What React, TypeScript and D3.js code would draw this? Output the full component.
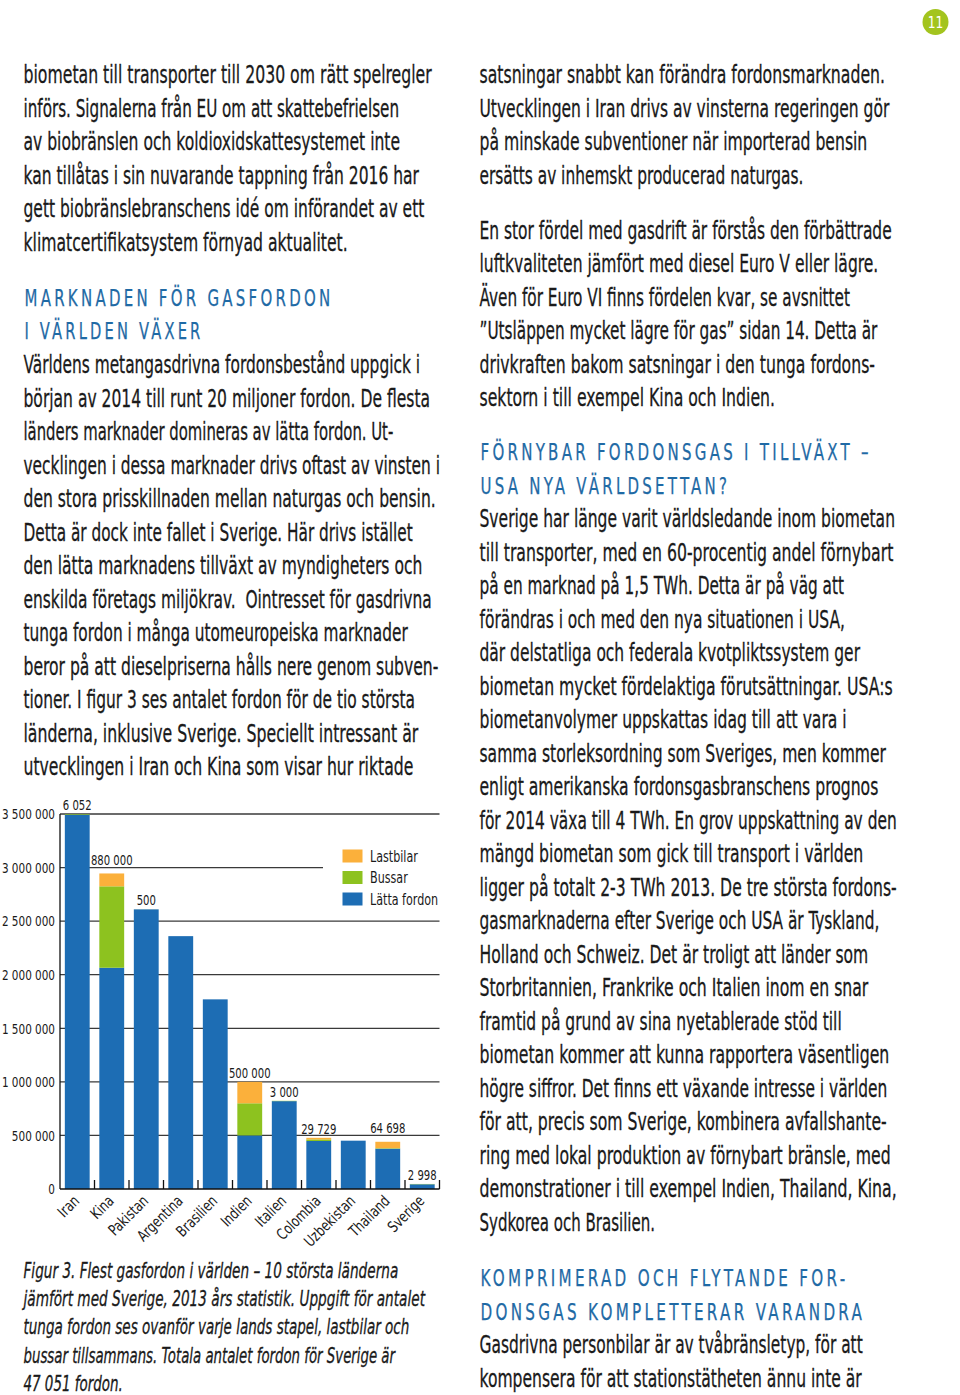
import React from "react";
import * as d3 from "d3";

// ---------- chart data ----------
const countries = ["Iran", "Kina", "Pakistan", "Argentina", "Brasilien", "Indien", "Italien", "Colombia", "Uzbekistan", "Thailand", "Sverige"];
const lattaFordon = [3494000, 2065000, 2610000, 2360000, 1770000, 500000, 820000, 448000, 451000, 376000, 44053];
const bussar = [6052, 760000, 500, 0, 0, 300000, 3000, 15000, 0, 4698, 2998];
const lastbilar = [0, 120000, 0, 0, 0, 200000, 0, 14729, 0, 60000, 0];
const yTicks = [0, 500000, 1000000, 1500000, 2000000, 2500000, 3000000, 3500000];
const seriesKeys = ["latta", "bussar", "lastbilar"];
const seriesNames = ["Lätta fordon", "Bussar", "Lastbilar"];
const seriesColors = ["#1d6db4", "#8dc21f", "#fbb03b"];

// ---------- page text ----------
const p1 = [
  "biometan till transporter till 2030 om rätt spelregler",
  "införs. Signalerna från EU om att skattebefrielsen",
  "av biobränslen och koldioxidskattesystemet inte",
  "kan tillåtas i sin nuvarande tappning från 2016 har",
  "gett biobränslebranschens idé om införandet av ett",
  "klimatcertifikatsystem förnyad aktualitet.",
];
const h1 = ["MARKNADEN FÖR GASFORDON", "I VÄRLDEN VÄXER"];
const p2 = [
  "Världens metangasdrivna fordonsbestånd uppgick i",
  "början av 2014 till runt 20 miljoner fordon. De flesta",
  "länders marknader domineras av lätta fordon. Ut-",
  "vecklingen i dessa marknader drivs oftast av vinsten i",
  "den stora prisskillnaden mellan naturgas och bensin.",
  "Detta är dock inte fallet i Sverige. Här drivs istället",
  "den lätta marknadens tillväxt av myndigheters och",
  "enskilda företags miljökrav.  Ointresset för gasdrivna",
  "tunga fordon i många utomeuropeiska marknader",
  "beror på att dieselpriserna hålls nere genom subven-",
  "tioner. I figur 3 ses antalet fordon för de tio största",
  "länderna, inklusive Sverige. Speciellt intressant är",
  "utvecklingen i Iran och Kina som visar hur riktade",
];
const p3 = [
  "satsningar snabbt kan förändra fordonsmarknaden.",
  "Utvecklingen i Iran drivs av vinsterna regeringen gör",
  "på minskade subventioner när importerad bensin",
  "ersätts av inhemskt producerad naturgas.",
];
const p4 = [
  "En stor fördel med gasdrift är förstås den förbättrade",
  "luftkvaliteten jämfört med diesel Euro V eller lägre.",
  "Även för Euro VI finns fördelen kvar, se avsnittet",
  "”Utsläppen mycket lägre för gas” sidan 14. Detta är",
  "drivkraften bakom satsningar i den tunga fordons-",
  "sektorn i till exempel Kina och Indien.",
];
const h2 = ["FÖRNYBAR FORDONSGAS I TILLVÄXT –", "USA NYA VÄRLDSETTAN?"];
const p5 = [
  "Sverige har länge varit världsledande inom biometan",
  "till transporter, med en 60-procentig andel förnybart",
  "på en marknad på 1,5 TWh. Detta är på väg att",
  "förändras i och med den nya situationen i USA,",
  "där delstatliga och federala kvotpliktssystem ger",
  "biometan mycket fördelaktiga förutsättningar. USA:s",
  "biometanvolymer uppskattas idag till att vara i",
  "samma storleksordning som Sveriges, men kommer",
  "enligt amerikanska fordonsgasbranschens prognos",
  "för 2014 växa till 4 TWh. En grov uppskattning av den",
  "mängd biometan som gick till transport i världen",
  "ligger på totalt 2-3 TWh 2013. De tre största fordons-",
  "gasmarknaderna efter Sverige och USA är Tyskland,",
  "Holland och Schweiz. Det är troligt att länder som",
  "Storbritannien, Frankrike och Italien inom en snar",
  "framtid på grund av sina nyetablerade stöd till",
  "biometan kommer att kunna rapportera väsentligen",
  "högre siffror. Det finns ett växande intresse i världen",
  "för att, precis som Sverige, kombinera avfallshante-",
  "ring med lokal produktion av förnybart bränsle, med",
  "demonstrationer i till exempel Indien, Thailand, Kina,",
  "Sydkorea och Brasilien.",
];
const h3 = ["KOMPRIMERAD OCH FLYTANDE FOR-", "DONSGAS KOMPLETTERAR VARANDRA"];
const p6 = [
  "Gasdrivna personbilar är av tvåbränsletyp, för att",
  "kompensera för att stationstätheten ännu inte är",
];
const caption = [
  "Figur 3. Flest gasfordon i världen – 10 största länderna",
  "jämfört med Sverige, 2013 års statistik. Uppgift för antalet",
  "tunga fordon ses ovanför varje lands stapel, lastbilar och",
  "bussar tillsammans. Totala antalet fordon för Sverige är",
  "47 051 fordon.",
];

// ---------- layout (line right edges) ----------
const p1Ends = [431.7, 399, 400, 419, 424.3, 347.7];
const h1Ends = [330, 200];
const p2Ends = [420, 430, 393.3, 440, 435.7, 412.7, 422.3, 431.7, 407.7, 438.3, 415, 418.3, 413.3];
const p3Ends = [885, 889.3, 867.3, 803.3];
const p4Ends = [891.7, 878.3, 850, 877.3, 875, 775];
const h2Ends = [868.3, 726.7];
const p5Ends = [895, 893.3, 844, 845, 860, 892.7, 846.7, 886, 878.3, 896.7, 863.3, 896.7, 879.3, 868.3, 868.3, 841.7, 889.3, 887.3, 886.7, 890.7, 896.7, 655];
const h3Ends = [845, 861.7];
const p6Ends = [862.7, 861.7];
const capEnds = [398.3, 425, 409.3, 395, 122.7];

const FONT = "'Liberation Sans Narrow', 'DejaVu Sans Condensed', 'Liberation Sans', sans-serif";
const TEXT_COLOR = "#1a1a1a";
const HEAD_COLOR = "#1f6aa5";
const PITCH = 33.5;
const SQ = 0.8; // horizontal squeeze for chart labels
const HEAD_SPACING = 4.5;

type BlockProps = {
  lines: string[];
  ends: number[];
  x0: number;
  y0: number;
  pitch: number;
  size: number;
  color: string;
  heading?: boolean;
  italic?: boolean;
};

function Block({ lines, ends, x0, y0, pitch, size, color, heading, italic }: BlockProps) {
  return (
    <g>
      {lines.map((l, i) => (
        <text
          key={i}
          x={x0}
          y={y0 + i * pitch}
          textLength={ends[i] - x0 + (heading ? 3.5 : 0)}
          lengthAdjust="spacingAndGlyphs"
          fontSize={size}
          fill={color}
          stroke={color}
          strokeWidth={heading ? 0.25 : 0.3}
          fontFamily={FONT}
          fontStyle={italic ? "italic" : "normal"}
          letterSpacing={heading ? HEAD_SPACING : 0}
          style={{ whiteSpace: "pre" }}
        >
          {l}
        </text>
      ))}
    </g>
  );
}

function Chart() {
  const left = 60;
  const right = 439.5;
  const bottom = 1189;
  const top = 814;

  const x = d3.scaleBand<string>().domain(countries).range([left, right]).padding(0);
  const y = d3.scaleLinear().domain([0, 3500000]).range([bottom, top]);
  const barW = x.bandwidth() * 0.72;

  const rows = countries.map((c, i) => ({
    country: c,
    latta: lattaFordon[i],
    bussar: bussar[i],
    lastbilar: lastbilar[i],
  }));
  const stack = d3.stack<any>().keys(seriesKeys)(rows);
  const fmt = d3.formatLocale({ decimal: ",", thousands: " ", grouping: [3], currency: ["", ""] }).format(",d");
  const gridYs = yTicks.filter((t) => t > 0).map((t) => y(t));

  const legendY = [856, 877.5, 899];
  const legendOrder = [2, 1, 0];

  return (
    <g fontFamily={FONT}>
      {/* gridlines */}
      {yTicks.filter((t) => t > 0).map((t) => (
        <line
          key={t}
          x1={left}
          x2={t === 3000000 ? 323 : right}
          y1={y(t)}
          y2={y(t)}
          stroke="#3a3a3a"
          strokeWidth={1.3}
        />
      ))}
      {/* bars */}
      {stack.map((s, si) => (
        <g key={s.key} fill={seriesColors[si]}>
          {s.map((d, i) => {
            const h = y(d[0]) - y(d[1]);
            if (h <= 0) return null;
            const cx = (x(countries[i]) as number) + x.bandwidth() / 2;
            return <rect key={i} x={cx - barW / 2} y={y(d[1])} width={barW} height={h} />;
          })}
        </g>
      ))}
      {/* axes */}
      <line x1={left} x2={left} y1={top} y2={bottom} stroke="#111" strokeWidth={1.3} />
      <line x1={left} x2={right} y1={bottom} y2={bottom} stroke="#111" strokeWidth={1.3} />
      {countries.map((c) => {
        const bx = (x(c) as number) + x.bandwidth();
        return <line key={c} x1={bx} x2={bx} y1={bottom} y2={bottom - 9} stroke="#111" strokeWidth={1.3} />;
      })}
      {/* y labels */}
      {yTicks.map((t) => (
        <text
          key={t}
          transform={`translate(55,${y(t)}) scale(${SQ},1)`}
          dy="0.36em"
          textAnchor="end"
          fontSize={14.5}
          fill={TEXT_COLOR}
        >
          {fmt(t)}
        </text>
      ))}
      {/* x labels */}
      {countries.map((c) => {
        const cx = (x(c) as number) + x.bandwidth() / 2;
        return (
          <text
            key={c}
            transform={`translate(${cx + 3},${bottom + 13}) rotate(-45) scale(0.84,1)`}
            textAnchor="end"
            fontSize={15.5}
            fill={TEXT_COLOR}
          >
            {c}
          </text>
        );
      })}
      {/* heavy vehicle labels */}
      {countries.map((c, i) => {
        const heavy = bussar[i] + lastbilar[i];
        if (!heavy) return null;
        const total = lattaFordon[i] + heavy;
        const cx = (x(c) as number) + x.bandwidth() / 2;
        let ly = y(total) - 4;
        gridYs.forEach((g) => {
          if (g < ly + 1 && g > ly - 11) ly = g - 2.5;
        });
        return (
          <text
            key={c}
            transform={`translate(${cx},${ly}) scale(${SQ},1)`}
            textAnchor="middle"
            fontSize={14}
            fill={TEXT_COLOR}
          >
            {fmt(heavy)}
          </text>
        );
      })}
      {/* legend */}
      {legendOrder.map((si, k) => (
        <g key={si}>
          <rect x={342.5} y={legendY[k] - 6.5} width={20} height={13} fill={seriesColors[si]} />
          <text
            transform={`translate(370,${legendY[k]}) scale(${SQ},1)`}
            dy="0.36em"
            fontSize={15.5}
            fill={TEXT_COLOR}
          >
            {seriesNames[si]}
          </text>
        </g>
      ))}
    </g>
  );
}

export default function App() {
  const LX = 23.5;
  const RX = 479.5;
  return (
    <div style={{ position: "absolute", left: 0, top: 0 }}>
      <svg width={960} height={1395} viewBox="0 0 960 1395" style={{ display: "block", background: "#fff" }}>
        <rect width={960} height={1395} fill="#fff" />
        {/* page number */}
        <circle cx={935.5} cy={22} r={13} fill="#a3c41e" />
        <text
          transform="translate(935.5,22) scale(0.85,1)"
          dy="0.36em"
          textAnchor="middle"
          fontSize={16}
          fill="#fff"
          fontFamily={FONT}
        >
          11
        </text>

        {/* left column */}
        <Block lines={p1} ends={p1Ends} x0={LX} y0={83} pitch={PITCH} size={25} color={TEXT_COLOR} />
        <Block lines={h1} ends={h1Ends} x0={LX + 1} y0={305.5} pitch={PITCH} size={23} color={HEAD_COLOR} heading />
        <Block lines={p2} ends={p2Ends} x0={LX} y0={373} pitch={PITCH} size={25} color={TEXT_COLOR} />

        <Chart />

        <Block lines={caption} ends={capEnds} x0={LX} y0={1278} pitch={28.2} size={21} color={TEXT_COLOR} italic />

        {/* right column */}
        <Block lines={p3} ends={p3Ends} x0={RX} y0={83} pitch={PITCH} size={25} color={TEXT_COLOR} />
        <Block lines={p4} ends={p4Ends} x0={RX} y0={238.5} pitch={PITCH} size={25} color={TEXT_COLOR} />
        <Block lines={h2} ends={h2Ends} x0={RX + 1} y0={460} pitch={PITCH} size={23} color={HEAD_COLOR} heading />
        <Block lines={p5} ends={p5Ends} x0={RX} y0={527} pitch={PITCH} size={25} color={TEXT_COLOR} />
        <Block lines={h3} ends={h3Ends} x0={RX + 1} y0={1286} pitch={PITCH} size={23} color={HEAD_COLOR} heading />
        <Block lines={p6} ends={p6Ends} x0={RX} y0={1353} pitch={PITCH} size={25} color={TEXT_COLOR} />
      </svg>
    </div>
  );
}
